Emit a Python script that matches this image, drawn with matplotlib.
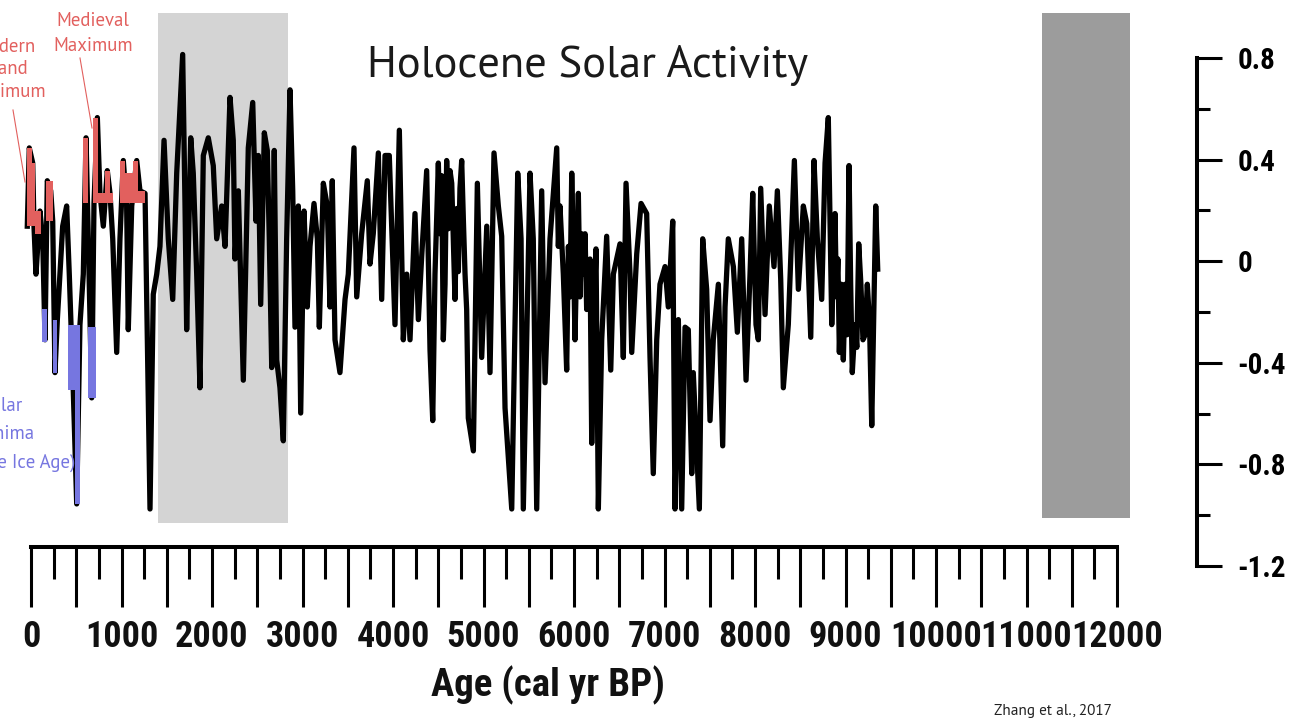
import os
import numpy as np
import matplotlib
matplotlib.use('Agg')
import matplotlib.pyplot as plt
import matplotlib.font_manager as fm
from matplotlib.font_manager import FontProperties
from matplotlib.patches import Rectangle
from matplotlib.transforms import blended_transform_factory

# ---------------- data ----------------
years = [-41, -19, 19, 33, 55, 99, 129, 155, 180, 218,
         240, 265, 291, 350, 394, 423, 467, 505, 541, 578,
         608, 633, 671, 696, 733, 762, 799, 843, 873, 903,
         947, 983, 1020, 1057, 1075, 1113, 1168, 1204, 1260, 1315,
         1351, 1389, 1425, 1470, 1517, 1566, 1610, 1676, 1702, 1720,
         1765, 1793, 1831, 1867, 1904, 1959, 2014, 2052, 2107, 2144,
         2199, 2235, 2254, 2291, 2346, 2401, 2450, 2486, 2512, 2538,
         2578, 2611, 2633, 2660, 2688, 2715, 2751, 2788, 2825, 2862,
         2892, 2917, 2954, 2980, 3017, 3053, 3083, 3127, 3164, 3186,
         3230, 3274, 3304, 3329, 3359, 3414, 3470, 3506, 3569, 3599,
         3654, 3716, 3746, 3782, 3838, 3875, 3912, 3959, 4022, 4070,
         4114, 4152, 4188, 4243, 4280, 4317, 4372, 4409, 4439, 4464,
         4501, 4520, 4538, 4556, 4575, 4593, 4612, 4630, 4649, 4668,
         4685, 4705, 4722, 4740, 4759, 4778, 4796, 4814, 4832, 4888,
         4932, 4980, 5036, 5072, 5116, 5164, 5201, 5238, 5312, 5378,
         5415, 5440, 5514, 5550, 5588, 5643, 5680, 5735, 5809, 5827,
         5845, 5882, 5919, 5938, 5956, 5975, 5993, 6011, 6030, 6048,
         6066, 6085, 6103, 6122, 6140, 6158, 6177, 6196, 6220, 6243,
         6269, 6306, 6361, 6406, 6435, 6508, 6545, 6575, 6619, 6638,
         6693, 6741, 6803, 6840, 6876, 6914, 6950, 7006, 7042, 7091,
         7116, 7153, 7190, 7227, 7263, 7301, 7318, 7385, 7422, 7466,
         7503, 7539, 7595, 7643, 7669, 7705, 7761, 7805, 7853, 7901,
         7945, 7975, 8011, 8037, 8063, 8111, 8158, 8210, 8247, 8284,
         8313, 8368, 8435, 8479, 8534, 8572, 8616, 8652, 8689, 8737,
         8774, 8810, 8848, 8884, 8900, 8916, 8932, 8954, 8976, 8997,
         9018, 9039, 9057, 9075, 9105, 9125, 9146, 9170, 9193, 9217,
         9241, 9265, 9290, 9334, 9356]

activity = [0.13, 0.44, 0.38, 0.13, -0.06, 0.19, 0.08, -0.32, 0.31, 0.27,
            0.15, -0.45, -0.24, 0.13, 0.21, -0.06, -0.52, -0.97, -0.26, -0.06,
            0.48, 0.08, -0.55, 0.22, 0.56, 0.26, 0.13, 0.35, 0.26, 0.08,
            -0.37, 0.08, 0.39, 0.21, -0.28, 0.21, 0.39, 0.27, 0.26, -0.99,
            -0.14, -0.06, 0.05, 0.47, 0.08, -0.16, 0.34, 0.81, 0.21, -0.28,
            0.48, 0.34, -0.06, -0.51, 0.41, 0.48, 0.37, 0.08, 0.21, 0.05,
            0.64, 0.47, 0.00, 0.27, -0.48, 0.44, 0.62, 0.15, 0.41, -0.18,
            0.50, 0.43, 0.08, -0.43, 0.43, -0.40, -0.51, -0.72, 0.08, 0.67,
            0.27, -0.27, 0.21, -0.61, 0.19, -0.19, 0.05, 0.22, 0.08, -0.27,
            0.30, 0.21, -0.19, 0.31, -0.32, -0.45, -0.16, -0.06, 0.44, -0.15,
            0.10, 0.31, -0.02, 0.10, 0.42, -0.16, 0.41, 0.41, -0.26, 0.51,
            -0.32, -0.06, -0.32, 0.18, -0.24, 0.01, 0.35, -0.36, -0.64, -0.06,
            0.38, 0.10, 0.33, -0.32, -0.10, 0.39, 0.12, 0.35, 0.30, 0.05,
            -0.16, 0.20, -0.05, 0.28, 0.39, 0.15, -0.06, -0.20, -0.63, -0.76,
            0.30, -0.39, 0.13, -0.45, 0.42, 0.21, 0.09, -0.59, -0.99, 0.34,
            0.08, -0.99, 0.34, 0.08, -0.99, 0.27, -0.49, 0.08, 0.44, 0.05,
            0.21, -0.06, -0.44, 0.05, -0.15, 0.34, 0.05, -0.32, 0.00, 0.26,
            -0.15, 0.10, -0.06, 0.10, -0.20, -0.12, 0.00, -0.73, -0.25, 0.04,
            -0.99, -0.32, 0.09, -0.44, -0.06, 0.06, -0.39, 0.30, -0.06, -0.37,
            0.02, 0.22, 0.18, -0.39, -0.85, -0.32, -0.10, -0.03, -0.19, 0.15,
            -0.99, -0.24, -0.99, -0.27, -0.28, -0.85, -0.45, -0.99, 0.08, -0.12,
            -0.64, -0.32, -0.10, -0.74, -0.19, 0.08, -0.03, -0.29, 0.08, -0.48,
            -0.06, 0.26, -0.26, -0.32, 0.28, -0.22, 0.21, -0.03, 0.27, -0.08,
            -0.51, -0.26, 0.39, -0.12, 0.21, 0.14, -0.31, 0.39, 0.08, -0.16,
            0.38, 0.56, -0.26, 0.18, -0.15, 0.00, -0.37, -0.10, -0.40, -0.10,
            -0.30, 0.37, -0.10, -0.45, -0.26, -0.35, 0.06, -0.10, -0.32, -0.30,
            -0.10, -0.25, -0.66, 0.21, -0.04]
assert len(years) == len(activity)

# shaded solar-maximum blocks (start yr, end yr, base, top)
max_start = [-48, 12, 44, 166, 578, 688, 744, 818, 873, 983, 1039, 1127, 1182]
max_end = [12, 44, 107, 246, 633, 744, 818, 873, 910, 1039, 1127, 1182, 1260]
max_base = [0.13, 0.13, 0.10, 0.15, 0.22, 0.22, 0.22, 0.22, 0.22, 0.22, 0.22, 0.22, 0.22]
max_top = [0.44, 0.38, 0.19, 0.31, 0.48, 0.56, 0.26, 0.35, 0.26, 0.39, 0.34, 0.39, 0.27]
# shaded solar-minimum blocks
min_start = [118, 240, 412, 486, 633]
min_end = [173, 291, 486, 541, 718]
min_top = [-0.20, -0.24, -0.26, -0.26, -0.27]
min_bottom = [-0.33, -0.45, -0.52, -0.97, -0.55]

age_ticks = list(range(0, 12001, 1000))
age_labels = [str(t) for t in age_ticks]
scale_ticks = [0.8, 0.4, 0.0, -0.4, -0.8, -1.2]
scale_labels = ['0.8', '0.4', '0', '-0.4', '-0.8', '-1.2']

light_band = (1400, 2840)
dark_band = (11170, 12145)

title = 'Holocene Solar Activity'
xlabel = 'Age (cal yr BP)'
credit = 'Zhang et al., 2017'

RED = '#e2605e'
BLUE = '#7676e0'

# ---------------- fonts ----------------
def norm(s):
    return s.lower().replace('_', '').replace(' ', '').replace('-', '')


def find_file(patterns):
    names = {norm(os.path.splitext(os.path.basename(f.fname))[0]): f.fname
             for f in fm.fontManager.ttflist}
    for p in patterns:
        if norm(p) in names:
            return names[norm(p)]
    return None

narrow_bold = find_file(['RobotoCondensed-Bold', 'LiberationSansNarrow-Bold', 'ArchivoNarrow-Bold'])
if narrow_bold:
    lab_fp = lambda s: FontProperties(fname=narrow_bold, size=s)
else:
    lab_fp = lambda s: FontProperties(family='DejaVu Sans', weight='bold', size=s * 0.75)

hum_file = find_file(['SourceSans3-Regular', 'SourceSansPro-Regular', 'PTSans-Regular',
                      'PT_Sans-Web-Regular'])
if hum_file:
    hum_fp = lambda s: FontProperties(fname=hum_file, size=s)
else:
    hum_fp = lambda s: FontProperties(family=['Open Sans', 'DejaVu Sans'], size=s * 0.88)

# ---------------- figure ----------------
W, H = 1307, 724
fig = plt.figure(figsize=(W / 100, H / 100), dpi=100)
fig.patch.set_facecolor('white')


def px_axes(x0, y0, x1, y1):
    return fig.add_axes([x0 / W, 1 - y1 / H, (x1 - x0) / W, (y1 - y0) / H])

X0, PXY = 31.0, 0.0905
Y0, PXV = 259.0, 252.5
ax_l, ax_r, ax_t, ax_b = 20, 1140, 10, 530
xlim = ((ax_l - X0) / PXY, (ax_r - X0) / PXY)
ylim = ((Y0 - ax_b) / PXV, (Y0 - ax_t) / PXV)

ax = px_axes(ax_l, ax_t, ax_r, ax_b)
ax.set_xlim(*xlim)
ax.set_ylim(*ylim)
ax.axis('off')

ax.add_patch(Rectangle((light_band[0], -1.046), light_band[1] - light_band[0], 2.02,
                       facecolor='#d4d4d4', edgecolor='none', zorder=0))
ax.add_patch(Rectangle((dark_band[0], -1.026), dark_band[1] - dark_band[0], 2.0,
                       facecolor='#9c9c9c', edgecolor='none', zorder=0))

yr = np.array(years, float)
val = np.array(activity, float)
ax.plot(yr, val, color='black', lw=3.8, solid_joinstyle='round', zorder=2)
ax.bar(max_start, np.array(max_top) - np.array(max_base),
       width=np.array(max_end) - np.array(max_start), bottom=max_base,
       align='edge', color=RED, lw=0, zorder=3)
ax.bar(min_start, np.array(min_bottom) - np.array(min_top),
       width=np.array(min_end) - np.array(min_start), bottom=min_top,
       align='edge', color=BLUE, lw=0, zorder=3)

# ruler (age axis)
axr = px_axes(ax_l, 547, ax_r, 640)
axr.set_xlim(*xlim)
axr.set_ylim(0, 1)
axr.patch.set_alpha(0)
for s in ['left', 'right', 'bottom']:
    axr.spines[s].set_visible(False)
axr.spines['top'].set_linewidth(2.9)
axr.spines['top'].set_bounds(0, 12000)
axr.yaxis.set_visible(False)
axr.xaxis.set_ticks_position('top')
axr.set_xticks(np.arange(0, 12001, 500))
axr.set_xticks(np.arange(250, 12000, 500), minor=True)
axr.tick_params(axis='x', which='major', direction='in', length=43, width=2.2,
                labeltop=False, labelbottom=False)
axr.tick_params(axis='x', which='minor', direction='in', length=23, width=2.2)
tr = blended_transform_factory(axr.transData, fig.transFigure)
for t, lab in zip(age_ticks, age_labels):
    axr.text(t, 1 - 637 / H, lab, transform=tr, ha='center', va='center',
             fontproperties=lab_fp(26), color='#111111')
fig.text(548 / W, 1 - 685 / H, xlabel, ha='center', va='center',
         fontproperties=lab_fp(28), color='#111111')

# right scale
axs = px_axes(1100, 58, 1197, 566)
axs.set_ylim(-1.2, 0.8)
axs.patch.set_alpha(0)
for s in ['left', 'top', 'bottom']:
    axs.spines[s].set_visible(False)
axs.spines['right'].set_linewidth(2.9)
axs.xaxis.set_visible(False)
axs.yaxis.set_ticks_position('right')
axs.set_yticks(scale_ticks)
axs.set_yticklabels(scale_labels)
axs.set_yticks([0.6, 0.2, -0.2, -0.6, -1.0], minor=True)
axs.tick_params(axis='y', which='major', direction='out', length=18, width=2.2, pad=11)
axs.tick_params(axis='y', which='minor', direction='out', length=9.5, width=2.2)
for lab in axs.get_yticklabels():
    lab.set_fontproperties(lab_fp(21))

# texts
fig.text(588 / W, 1 - 66 / H, title, ha='center', va='center',
         fontproperties=hum_fp(32), color='#1a1a1a')
fig.text(1053 / W, 1 - 711 / H, credit, ha='center', va='center',
         fontproperties=hum_fp(11), color='#222222')

for txt, y in zip(['Medieval', 'Maximum'], [21, 46]):
    fig.text(93 / W, 1 - y / H, txt, ha='center', va='center',
             fontproperties=hum_fp(13.5), color=RED)
for txt, xr, y in zip(['Modern', 'Grand', 'Maximum'], [36, 28, 46], [47, 69, 92]):
    fig.text(xr / W, 1 - y / H, txt, ha='right', va='center',
             fontproperties=hum_fp(13.5), color=RED)
for txt, xr, y in zip(['Solar', 'Minima', '(Little Ice Age)'], [22, 34, 75], [406, 434, 463]):
    fig.text(xr / W, 1 - y / H, txt, ha='right', va='center',
             fontproperties=hum_fp(13.5), color=BLUE)
fig.add_artist(plt.Line2D([80 / W, 92 / W], [1 - 58 / H, 1 - 128 / H], color=RED, lw=0.8))
fig.add_artist(plt.Line2D([13 / W, 25 / W], [1 - 110 / H, 1 - 182 / H], color=RED, lw=0.8))

fig.savefig('out.png', dpi=100)
